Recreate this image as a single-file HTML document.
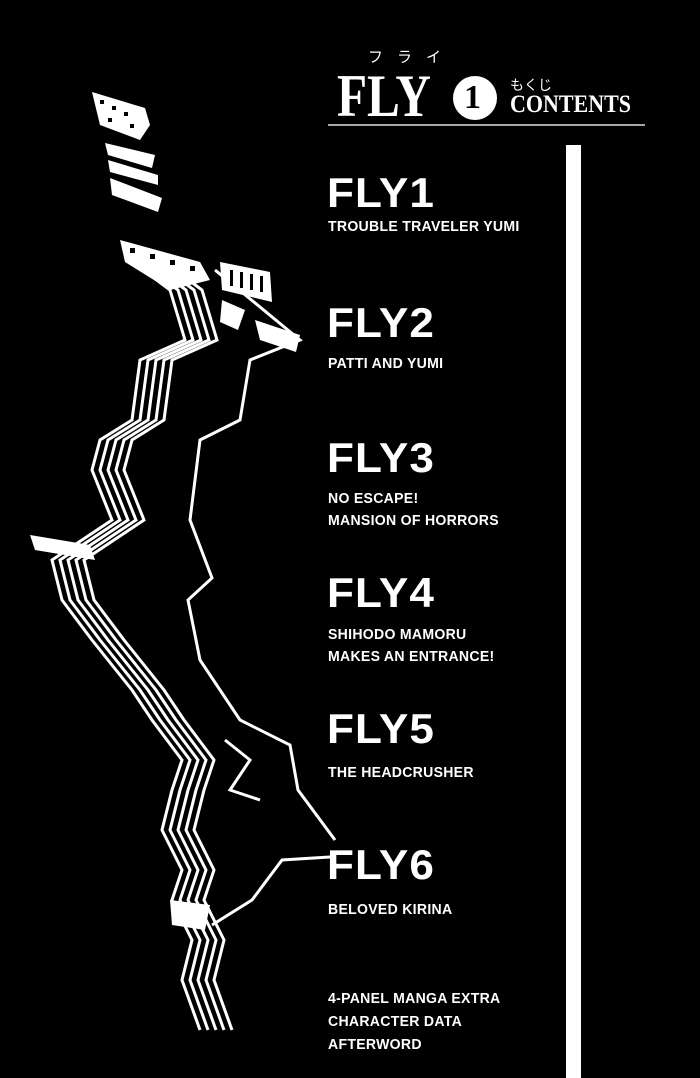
<!DOCTYPE html>
<html><head><meta charset="utf-8"><style>
body{margin:0;background:#000;}
#p{position:relative;width:700px;height:1078px;background:#000;overflow:hidden;color:#fff;font-family:"Liberation Sans","Noto Sans CJK JP",sans-serif;}
.t{position:absolute;left:327px;font-weight:bold;font-size:42px;letter-spacing:1px;line-height:1;transform:scaleX(1.05);transform-origin:left;}
.s{position:absolute;left:328px;font-size:14.5px;font-weight:bold;line-height:22px;letter-spacing:0.3px;transform:scaleX(0.97);transform-origin:left;}
.serif{font-family:"Liberation Serif","Noto Serif CJK SC",serif;position:absolute;}
</style></head><body><div id="p">
<svg width="700" height="1078" style="position:absolute;left:0;top:0">
<g fill="none" stroke="#fff" stroke-width="3" stroke-linejoin="miter">
<g id="L">
<polyline points="130,260 170,290 185,340 140,360 132,420 100,440 92,470 112,520 82,540 52,560 62,600 92,640 132,690 152,720 182,760 172,790 162,830 182,870 172,900 192,940 182,980 200,1030"/>
</g>
<use href="#L" transform="translate(8,0)"/>
<use href="#L" transform="translate(16,0)"/>
<use href="#L" transform="translate(24,0)"/>
<use href="#L" transform="translate(32,0)"/>
<polyline points="215,270 300,340 250,360 240,420 200,440 190,520 212,578 188,600 200,660 240,720 290,745 298,790 335,840"/>
<polyline points="330,857 282,860 252,900 212,925"/>
<polyline points="225,740 250,760 230,790 260,800"/>
</g>
<g fill="#fff">
<polygon points="92,92 145,108 150,125 140,140 100,125"/>
<polygon points="105,143 155,155 152,168 108,155"/>
<polygon points="108,160 158,175 158,185 110,172"/>
<polygon points="110,178 162,198 158,212 112,195"/>
<polygon points="120,240 200,262 210,280 170,290 125,262"/>
<polygon points="220,262 270,272 272,302 222,290"/>
<polygon points="255,320 300,335 296,352 260,340"/>
<polygon points="222,300 245,310 238,330 220,322"/>
<polygon points="30,535 90,545 95,560 35,550"/>
<polygon points="170,900 210,905 205,930 172,925"/>
</g>
<g fill="#000">
<rect x="100" y="100" width="4" height="4"/><rect x="112" y="106" width="4" height="4"/><rect x="124" y="112" width="4" height="4"/><rect x="108" y="118" width="4" height="4"/><rect x="130" y="124" width="4" height="4"/>
<rect x="230" y="270" width="3" height="16"/><rect x="240" y="272" width="3" height="16"/><rect x="250" y="274" width="3" height="16"/><rect x="260" y="276" width="3" height="16"/>
<rect x="130" y="248" width="5" height="5"/><rect x="150" y="254" width="5" height="5"/><rect x="170" y="260" width="5" height="5"/><rect x="190" y="266" width="5" height="5"/>
</g>
<line x1="328" y1="125" x2="645" y2="125" stroke="#ddd" stroke-width="1.5"/>
<rect x="566" y="145" width="15" height="940" fill="#fff"/>
<circle cx="475" cy="98" r="22" fill="#fff"/>
</svg>
<div class="serif" style="left:368px;top:46px;font-size:15px;letter-spacing:14px;font-family:'Noto Sans CJK JP',sans-serif;">フライ</div>
<div class="serif" style="left:337px;top:66px;font-size:60px;line-height:60px;font-weight:bold;transform:scaleX(0.82);transform-origin:left;">FLY</div>
<div class="serif" style="left:464px;top:78px;font-size:34px;line-height:40px;color:#000;font-weight:bold;">1</div>
<div class="serif" style="left:510px;top:75px;font-size:14px;font-family:'Noto Sans CJK JP',sans-serif;">もくじ</div>
<div class="serif" style="left:510px;top:92px;font-size:25px;line-height:26px;font-weight:bold;transform:scaleX(0.88);transform-origin:left;">CONTENTS</div>
<div class="t" style="top:172px">FLY1</div>
<div class="s" style="top:216px">TROUBLE TRAVELER YUMI</div>
<div class="t" style="top:302px">FLY2</div>
<div class="s" style="top:353px">PATTI AND YUMI</div>
<div class="t" style="top:437px">FLY3</div>
<div class="s" style="top:488px">NO ESCAPE!<br>MANSION OF HORRORS</div>
<div class="t" style="top:572px">FLY4</div>
<div class="s" style="top:624px">SHIHODO MAMORU<br>MAKES AN ENTRANCE!</div>
<div class="t" style="top:708px">FLY5</div>
<div class="s" style="top:762px">THE HEADCRUSHER</div>
<div class="t" style="top:844px">FLY6</div>
<div class="s" style="top:899px">BELOVED KIRINA</div>
<div class="s" style="top:988px;line-height:23px">4-PANEL MANGA EXTRA<br>CHARACTER DATA<br>AFTERWORD</div>
</div></body></html>
